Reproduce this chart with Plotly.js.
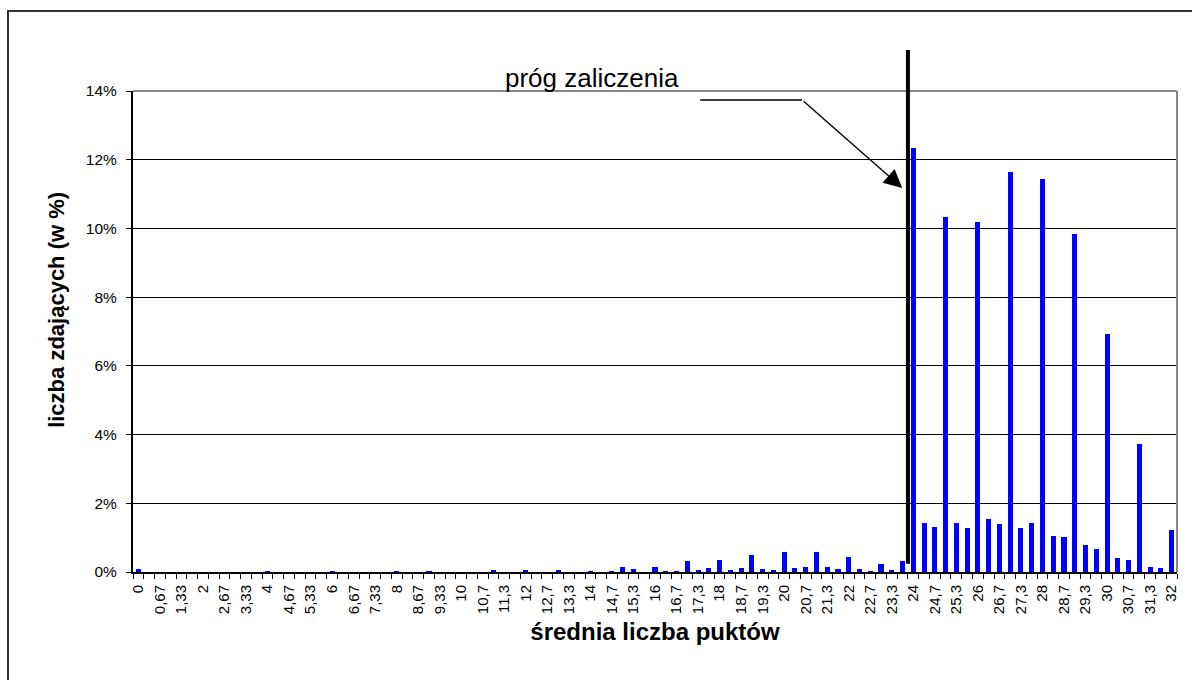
<!DOCTYPE html>
<html>
<head>
<meta charset="utf-8">
<script src="https://cdn.plot.ly/plotly-3.0.1.min.js"></script>
<style>
html,body{margin:0;padding:0;background:#fff;}
#wrap{position:relative;width:1192px;height:680px;overflow:hidden;}
#chart{position:absolute;left:0;top:0;width:1192px;height:680px;}
#frame{position:absolute;left:7px;top:10px;width:1300px;height:800px;border-left:2px solid #333;border-top:2px solid #333;pointer-events:none;}
</style>
</head>
<body>
<div id="wrap"><div id="chart"></div><div id="frame"></div></div>
<script>
// Categories: average score (step 1/3)
const categories = [
"0","0,33","0,67","1","1,33","1,67","2","2,33","2,67","3","3,33","3,67",
"4","4,33","4,67","5","5,33","5,67","6","6,33","6,67","7","7,33","7,67",
"8","8,33","8,67","9","9,33","9,67","10","10,3","10,7","11","11,3","11,7",
"12","12,3","12,7","13","13,3","13,7","14","14,3","14,7","15","15,3","15,7",
"16","16,3","16,7","17","17,3","17,7","18","18,3","18,7","19","19,3","19,7",
"20","20,3","20,7","21","21,3","21,7","22","22,3","22,7","23","23,3","23,7",
"24","24,3","24,7","25","25,3","25,7","26","26,3","26,7","27","27,3","27,7",
"28","28,3","28,7","29","29,3","29,7","30","30,3","30,7","31","31,3","31,7","32"
];
// Share of examinees (%)
const percentages = [
0.09,0,0,0,0,0,0,0,0,0,0,0,
0.03,0,0,0,0,0,0.03,0,0,0,0,0,
0.03,0,0,0.03,0,0,0,0,0,0.06,0,0,
0.06,0,0,0.06,0,0,0.03,0,0.03,0.15,0.09,0,
0.15,0.03,0.03,0.32,0.06,0.12,0.35,0.06,0.12,0.50,0.09,0.06,
0.58,0.12,0.15,0.58,0.15,0.09,0.44,0.09,0.03,0.23,0.06,0.32,
12.34,1.43,1.31,10.33,1.43,1.28,10.19,1.54,1.40,11.64,1.28,1.43,
11.44,1.05,1.02,9.84,0.79,0.67,6.93,0.41,0.35,3.73,0.15,0.12,1.22
];
const yTicks = [0,2,4,6,8,10,12,14];
const thresholdLabel = "próg zaliczenia";
const thresholdCategory = "24";
const xTitle = "średnia liczba puktów";
const yTitle = "liczba zdających (w %)";

const xIdx = categories.map((c,i)=>i);
const labelIdx = xIdx.filter(i=>i%2===0);
const labelText = labelIdx.map(i=>categories[i]);
const thrPos = categories.indexOf(thresholdCategory) - 0.5;

const FONT = "Liberation Sans, Arial, Helvetica, sans-serif";

const trace = {
  type:'bar', x:xIdx, y:percentages, width:0.47,
  marker:{color:'#0000FF', line:{width:0}},
  hoverinfo:'skip'
};

const layout = {
  width:1192, height:680,
  margin:{l:133, r:15, t:91, b:108, pad:0},
  paper_bgcolor:'rgba(0,0,0,0)', plot_bgcolor:'#fff',
  font:{family:FONT, color:'#000'},
  showlegend:false,
  bargap:0,
  xaxis:{
    range:[-0.5, categories.length-0.5], fixedrange:true,
    tickmode:'array', tickvals:labelIdx, ticktext:labelText,
    tickangle:-90, ticks:'', ticklabelstandoff:5,
    tickfont:{size:15, family:FONT, color:'#000'},
    minor:{tickmode:'linear', tick0:-0.5, dtick:1, ticks:'outside', ticklen:5, tickwidth:1, tickcolor:'#000', showgrid:false},
    showline:true, linecolor:'#000', linewidth:2, showgrid:false, zeroline:false,
    title:{text:'<b>'+xTitle+'</b>', font:{size:24, family:FONT, color:'#000'}, standoff:10}
  },
  yaxis:{
    range:[0,14], fixedrange:true,
    tickmode:'array', tickvals:yTicks, ticktext:yTicks.map(v=>v+'%'),
    ticks:'outside', ticklen:5, tickwidth:1, tickcolor:'#000', ticklabelstandoff:6,
    tickfont:{size:15.5, family:FONT, color:'#000'},
    showline:true, linecolor:'#000', linewidth:2,
    showgrid:true, gridcolor:'#000', gridwidth:1, zeroline:false
  },
  shapes:[
    {type:'line', xref:'paper', yref:'paper', x0:0, x1:1, y0:1, y1:1, line:{color:'#888', width:2}, layer:'above'},
    {type:'line', xref:'paper', yref:'paper', x0:1, x1:1, y0:0, y1:1, line:{color:'#888', width:2}, layer:'above'},
    {type:'line', xref:'x', yref:'paper', x0:thrPos, x1:thrPos, y0:0.017, y1:1.085, line:{color:'#000', width:4}, layer:'above'},
    {type:'line', xref:'x', yref:'y', x0:52.2, x1:61.67, y0:13.74, y1:13.74, line:{color:'#000', width:1.5}, layer:'above'}
  ],
  annotations:[
    {x:70.97, y:11.18, xref:'x', yref:'y', ax:61.67, ay:13.74, axref:'x', ayref:'y',
     text:'', showarrow:true, arrowhead:2, arrowsize:2.6, arrowwidth:1.4, arrowcolor:'#000', standoff:0, startstandoff:0},
    {x:42.17, y:1.027, xref:'x', yref:'paper', text:thresholdLabel, showarrow:false,
     xanchor:'center', yanchor:'middle', font:{size:26, family:FONT, color:'#000'}},
    {x:-0.0728, y:0.545, xref:'paper', yref:'paper', text:'<b>'+yTitle+'</b>', textangle:-90, showarrow:false,
     xanchor:'center', yanchor:'middle', font:{size:22, family:FONT, color:'#000'}}
  ]
};

Plotly.newPlot('chart',[trace],layout,{staticPlot:true, displayModeBar:false});
</script>
</body>
</html>
